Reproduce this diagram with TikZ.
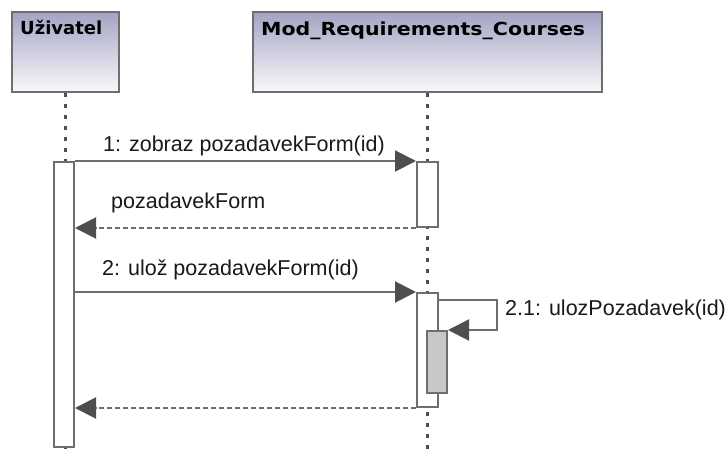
\documentclass[tikz,border=0pt]{standalone}
\usepackage{fontspec}
\setmainfont{Liberation Sans}
\newfontfamily\hdrfont{DejaVu Sans}
\usetikzlibrary{arrows.meta}
\definecolor{hdrtop}{HTML}{A4A4C4}
\definecolor{hdrbot}{HTML}{F8F8FA}
\definecolor{edge}{HTML}{6E6E6E}
\definecolor{tipgray}{HTML}{4E4E4E}
\definecolor{lifegray}{HTML}{505050}
\definecolor{nestfill}{HTML}{C8C8C8}
\tikzset{
  hdr/.style={draw=edge, line width=2pt, top color=hdrtop, bottom color=hdrbot,
    anchor=north west, inner sep=0pt},
  hdrtext/.style={anchor=base west, inner sep=0pt, font=\hdrfont\bfseries\fontsize{18pt}{20pt}\selectfont},
  lifeline/.style={draw=lifegray, line width=3pt, dash pattern=on 4pt off 7pt},
  actbar/.style={draw=edge, line width=2pt, fill=white, anchor=north west, inner sep=0pt},
  nestbar/.style={actbar, fill=nestfill},
  msg/.style={draw=edge, line width=2pt, -{Triangle[length=21pt, width=21pt, color=tipgray]}},
  retmsg/.style={msg, dash pattern=on 5pt off 3pt},
  msgtext/.style={anchor=base west, inner sep=0pt, font=\fontsize{21.5pt}{24pt}\selectfont, text=black!90},
}
\begin{document}
\begin{tikzpicture}[x=1pt, y=-1pt]
\useasboundingbox[fill=white] (0,0) rectangle (727,454);

% participant heads
\node[hdr, minimum width=107pt, minimum height=80pt] (user) at (11,11) {};
\node[hdr, minimum width=349pt, minimum height=80pt] (mod) at (252,11) {};
\node[hdrtext] (usertext) at (20,35) {Uživatel};
\node[hdrtext] (modtext) at (261,36) {\scalebox{1.14}[1]{Mod\_Requirements\_Courses}};

% lifelines
\coordinate (userend) at (user.south |- 0,454);
\coordinate (modend) at (mod.south |- 0,454);
\draw[lifeline] (user.south) -- (userend);
\draw[lifeline] (mod.south) -- (modend);

% activation bars
\node[actbar, minimum width=20pt, minimum height=285pt] (useract) at (53,161) {};
\node[actbar, minimum width=21pt, minimum height=65pt] (modact1) at (416,161) {};
\node[actbar, minimum width=21pt, minimum height=114pt] (modact2) at (416,292) {};
\node[nestbar, minimum width=20pt, minimum height=62pt] (nested) at (426,330) {};

% messages
\draw[msg] (useract.east |- modact1.north west) -- (modact1.north west);
\draw[retmsg] (modact1.south west) -- (useract.east |- modact1.south west);
\draw[msg] (useract.east |- modact2.north west) -- (modact2.north west);
\coordinate (loopa) at (497,300);
\coordinate (loopb) at (497,330);
\draw[msg] (modact2.east |- loopa) -- (loopa) -- (loopb) -- (nested.north east);
\draw[retmsg] (modact2.south west) -- (useract.east |- modact2.south west);

% message labels
\node[msgtext] (lab1) at (103,152) {1: zobraz pozadavekForm(id)};
\node[msgtext] (lab2) at (111,208) {pozadavekForm};
\node[msgtext] (lab3) at (102,275) {2: ulož pozadavekForm(id)};
\node[msgtext] (lab4) at (505,315) {2.1: ulozPozadavek(id)};
\end{tikzpicture}
\end{document}
